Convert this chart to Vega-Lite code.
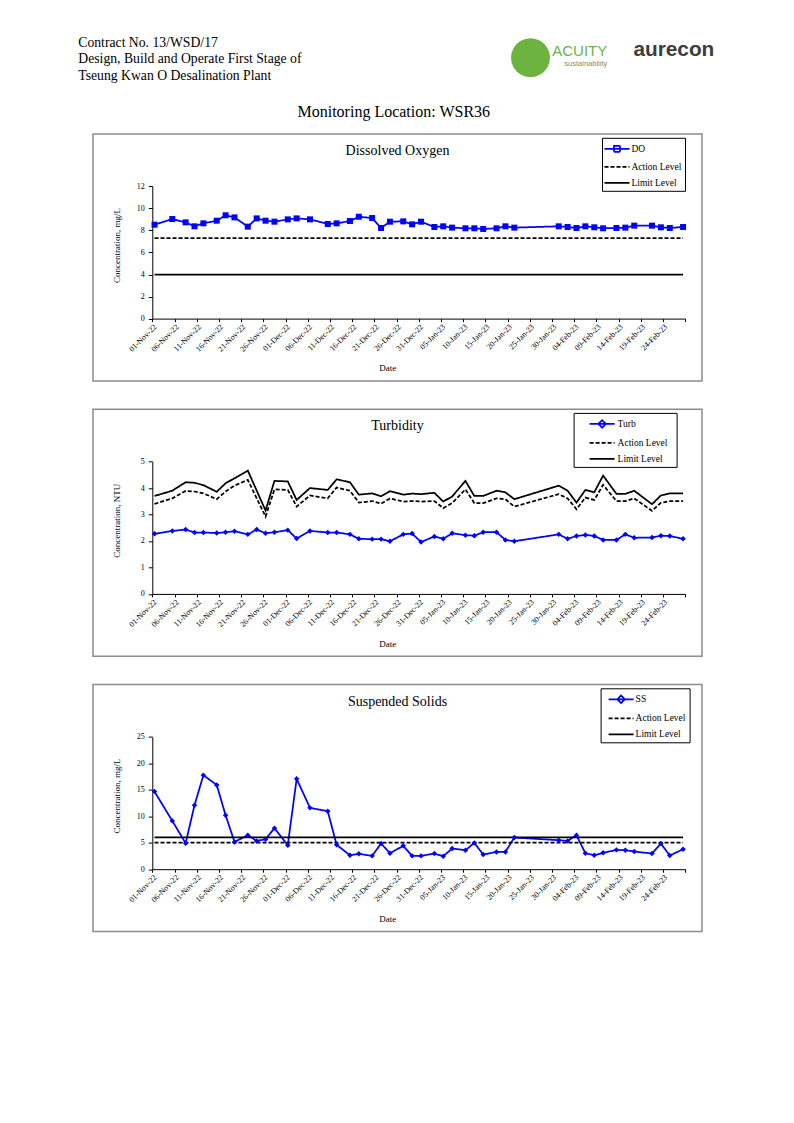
{
  "$schema": "https://vega.github.io/schema/vega-lite/v6.json",
  "background": "white",
  "padding": {"left": 78, "top": 30, "right": 10, "bottom": 10},
  "title": {"text": ["Contract No. 13/WSD/17", "Design, Build and Operate First Stage of", "Tseung Kwan O Desalination Plant"], "anchor": "start", "frame": "bounds", "dx": -13.95, "offset": -52.2, "fontSize": 13.7, "lineHeight": 16.5, "font": "Liberation Serif", "fontWeight": "normal", "color": "black"},
  "vconcat": [
    {
      "title": {"text": "aurecon", "anchor": "end", "frame": "bounds", "dx": 11.55, "offset": -30.3, "font": "Liberation Sans", "fontWeight": "bold", "fontSize": 20.8, "color": "#3d3d3d"},
      "vconcat": [
        {
          "title": {"text": "ACUITY", "subtitle": "sustainability", "anchor": "end", "frame": "bounds", "dx": -95.45, "offset": -37.5, "font": "Liberation Sans", "fontWeight": "normal", "fontSize": 15, "color": "#6db33f", "subtitleFont": "Liberation Sans", "subtitleFontSize": 7.5, "subtitleColor": "#7f8c7a", "subtitlePadding": 1.5},
          "vconcat": [
            {
              "title": {"text": "●", "anchor": "end", "frame": "bounds", "dx": -150, "offset": 21.9, "font": "DejaVu Sans", "fontWeight": "normal", "fontSize": 51, "color": "#6db33f"},
              "vconcat": [
                {
                  "title": {"text": "Monitoring Location: WSR36", "anchor": "middle", "frame": "bounds", "dx": -3.7, "offset": 13, "fontSize": 16, "font": "Liberation Serif", "fontWeight": "normal", "color": "black"},
                  "spacing": 26.3,
                  "resolve": {"scale": {"color": "independent", "strokeDash": "independent", "shape": "independent"}},
                  "vconcat": [
                    {
                      "width": 609, "height": 247,
                      "title": {"text": "Dissolved Oxygen", "fontSize": 14, "anchor": "middle", "frame": "group", "offset": -24},
                      "data": {"values": [
                        {"date": "2022-11-01", "DO": 8.52, "Action Level": 7.3, "Limit Level": 4},
                        {"date": "2022-11-05", "DO": 9.03, "Action Level": 7.3, "Limit Level": 4},
                        {"date": "2022-11-08", "DO": 8.73, "Action Level": 7.3, "Limit Level": 4},
                        {"date": "2022-11-10", "DO": 8.37, "Action Level": 7.3, "Limit Level": 4},
                        {"date": "2022-11-12", "DO": 8.64, "Action Level": 7.3, "Limit Level": 4},
                        {"date": "2022-11-15", "DO": 8.88, "Action Level": 7.3, "Limit Level": 4},
                        {"date": "2022-11-17", "DO": 9.37, "Action Level": 7.3, "Limit Level": 4},
                        {"date": "2022-11-19", "DO": 9.18, "Action Level": 7.3, "Limit Level": 4},
                        {"date": "2022-11-22", "DO": 8.34, "Action Level": 7.3, "Limit Level": 4},
                        {"date": "2022-11-24", "DO": 9.09, "Action Level": 7.3, "Limit Level": 4},
                        {"date": "2022-11-26", "DO": 8.88, "Action Level": 7.3, "Limit Level": 4},
                        {"date": "2022-11-28", "DO": 8.79, "Action Level": 7.3, "Limit Level": 4},
                        {"date": "2022-12-01", "DO": 9.0, "Action Level": 7.3, "Limit Level": 4},
                        {"date": "2022-12-03", "DO": 9.09, "Action Level": 7.3, "Limit Level": 4},
                        {"date": "2022-12-06", "DO": 9.0, "Action Level": 7.3, "Limit Level": 4},
                        {"date": "2022-12-10", "DO": 8.58, "Action Level": 7.3, "Limit Level": 4},
                        {"date": "2022-12-12", "DO": 8.64, "Action Level": 7.3, "Limit Level": 4},
                        {"date": "2022-12-15", "DO": 8.85, "Action Level": 7.3, "Limit Level": 4},
                        {"date": "2022-12-17", "DO": 9.24, "Action Level": 7.3, "Limit Level": 4},
                        {"date": "2022-12-20", "DO": 9.12, "Action Level": 7.3, "Limit Level": 4},
                        {"date": "2022-12-22", "DO": 8.22, "Action Level": 7.3, "Limit Level": 4},
                        {"date": "2022-12-24", "DO": 8.79, "Action Level": 7.3, "Limit Level": 4},
                        {"date": "2022-12-27", "DO": 8.82, "Action Level": 7.3, "Limit Level": 4},
                        {"date": "2022-12-29", "DO": 8.55, "Action Level": 7.3, "Limit Level": 4},
                        {"date": "2022-12-31", "DO": 8.79, "Action Level": 7.3, "Limit Level": 4},
                        {"date": "2023-01-03", "DO": 8.31, "Action Level": 7.3, "Limit Level": 4},
                        {"date": "2023-01-05", "DO": 8.37, "Action Level": 7.3, "Limit Level": 4},
                        {"date": "2023-01-07", "DO": 8.25, "Action Level": 7.3, "Limit Level": 4},
                        {"date": "2023-01-10", "DO": 8.19, "Action Level": 7.3, "Limit Level": 4},
                        {"date": "2023-01-12", "DO": 8.19, "Action Level": 7.3, "Limit Level": 4},
                        {"date": "2023-01-14", "DO": 8.13, "Action Level": 7.3, "Limit Level": 4},
                        {"date": "2023-01-17", "DO": 8.19, "Action Level": 7.3, "Limit Level": 4},
                        {"date": "2023-01-19", "DO": 8.37, "Action Level": 7.3, "Limit Level": 4},
                        {"date": "2023-01-21", "DO": 8.25, "Action Level": 7.3, "Limit Level": 4},
                        {"date": "2023-01-31", "DO": 8.37, "Action Level": 7.3, "Limit Level": 4},
                        {"date": "2023-02-02", "DO": 8.31, "Action Level": 7.3, "Limit Level": 4},
                        {"date": "2023-02-04", "DO": 8.22, "Action Level": 7.3, "Limit Level": 4},
                        {"date": "2023-02-06", "DO": 8.37, "Action Level": 7.3, "Limit Level": 4},
                        {"date": "2023-02-08", "DO": 8.28, "Action Level": 7.3, "Limit Level": 4},
                        {"date": "2023-02-10", "DO": 8.19, "Action Level": 7.3, "Limit Level": 4},
                        {"date": "2023-02-13", "DO": 8.22, "Action Level": 7.3, "Limit Level": 4},
                        {"date": "2023-02-15", "DO": 8.25, "Action Level": 7.3, "Limit Level": 4},
                        {"date": "2023-02-17", "DO": 8.43, "Action Level": 7.3, "Limit Level": 4},
                        {"date": "2023-02-21", "DO": 8.43, "Action Level": 7.3, "Limit Level": 4},
                        {"date": "2023-02-23", "DO": 8.28, "Action Level": 7.3, "Limit Level": 4},
                        {"date": "2023-02-25", "DO": 8.22, "Action Level": 7.3, "Limit Level": 4},
                        {"date": "2023-02-28", "DO": 8.31, "Action Level": 7.3, "Limit Level": 4}
                      ]},
                      "transform": [
                        {"fold": ["DO", "Action Level", "Limit Level"], "as": ["series", "value"]},
                        {"filter": "isValid(datum.value)"}
                      ],
                      "encoding": {
                        "x": {"field": "date", "type": "temporal", "timeUnit": "utcyearmonthdate", "bandPosition": 0.5,
                          "scale": {"type": "utc", "domain": [1667260800000, 1677628800000], "range": [59.3, 592.3], "nice": false},
                          "axis": {"values": [1667260800000, 1667692800000, 1668124800000, 1668556800000, 1668988800000, 1669420800000, 1669852800000, 1670284800000, 1670716800000, 1671148800000, 1671580800000, 1672012800000, 1672444800000, 1672876800000, 1673308800000, 1673740800000, 1674172800000, 1674604800000, 1675036800000, 1675468800000, 1675900800000, 1676332800000, 1676764800000, 1677196800000, 1677628800000],
                            "labelExpr": "datum.value >= 1677628800000 ? '' : utcFormat(datum.value, '%d-%b-%y')",
                            "labelAngle": -45, "offset": -62.4, "tickSize": 3, "labelPadding": 1, "labelOverlap": false, "labelBound": false, "labelFlush": false,
                            "title": "Date", "titleX": 294.3, "titleY": 49.3, "titleBaseline": "middle"}},
                        "y": {"field": "value", "type": "quantitative",
                          "scale": {"domain": [0, 12], "range": [184.6, 52.3], "nice": false},
                          "axis": {"values": [0, 2, 4, 6, 8, 10, 12], "offset": -59.3, "tickSize": 4, "labelPadding": 4, "labelFlush": false,
                            "title": "Concentration, mg/L", "titleX": -36.3, "titleY": 111, "titleBaseline": "middle"}}
                      },
                      "layer": [
                        {"mark": {"type": "line", "strokeWidth": 1.75},
                          "encoding": {
                            "color": {"field": "series", "type": "nominal", "scale": {"domain": ["DO", "Action Level", "Limit Level"], "range": ["#0000ff", "black", "black"]},
                              "legend": {"orient": "none", "legendX": 509, "legendY": 3.8, "title": null, "padding": 3.5, "rowPadding": 4, "labelOffset": 7, "symbolOffset": 4, "symbolSize": 156.25, "symbolStrokeWidth": 1.75, "symbolOpacity": 1, "symbolFillColor": "#0000ff", "strokeColor": "black", "fillColor": "white"}},
                            "strokeDash": {"field": "series", "type": "nominal", "scale": {"domain": ["DO", "Action Level", "Limit Level"], "range": [[1, 0], [4, 2], [1, 0]]},
                              "legend": {"orient": "none", "legendX": 509, "legendY": 3.8, "title": null, "padding": 3.5, "rowPadding": 4, "labelOffset": 7, "symbolOffset": 4, "symbolSize": 156.25, "symbolStrokeWidth": 1.75, "symbolOpacity": 1, "symbolFillColor": "#0000ff", "strokeColor": "black", "fillColor": "white"}}
                          }},
                        {"mark": {"type": "point", "opacity": 0, "size": 1},
                          "encoding": {
                            "shape": {"field": "series", "type": "nominal", "scale": {"domain": ["DO", "Action Level", "Limit Level"], "range": ["M-2,0H2M-0.48,-0.48H0.48V0.48H-0.48Z", "M-2,0H2", "M-2,0H2"]},
                              "legend": {"orient": "none", "legendX": 509, "legendY": 3.8, "title": null, "padding": 3.5, "rowPadding": 4, "labelOffset": 7, "symbolOffset": 4, "symbolSize": 156.25, "symbolStrokeWidth": 1.75, "symbolOpacity": 1, "symbolFillColor": "#0000ff", "strokeColor": "black", "fillColor": "white"}}
                          }},
                        {"transform": [{"filter": "datum.series === 'DO'"}],
                          "mark": {"type": "point", "shape": "square", "filled": true, "size": 36, "color": "#0000ff", "opacity": 1}}
                      ]
                    },
                    {
                      "width": 609, "height": 247,
                      "title": {"text": "Turbidity", "fontSize": 14, "anchor": "middle", "frame": "group", "offset": -24},
                      "data": {"values": [
                        {"date": "2022-11-01", "Turb": 2.27, "Action Level": 3.40, "Limit Level": 3.70},
                        {"date": "2022-11-05", "Turb": 2.38, "Action Level": 3.61, "Limit Level": 3.90},
                        {"date": "2022-11-08", "Turb": 2.43, "Action Level": 3.89, "Limit Level": 4.22},
                        {"date": "2022-11-10", "Turb": 2.32, "Action Level": 3.87, "Limit Level": 4.20},
                        {"date": "2022-11-12", "Turb": 2.32, "Action Level": 3.80, "Limit Level": 4.11},
                        {"date": "2022-11-15", "Turb": 2.30, "Action Level": 3.58, "Limit Level": 3.86},
                        {"date": "2022-11-17", "Turb": 2.33, "Action Level": 3.87, "Limit Level": 4.18},
                        {"date": "2022-11-19", "Turb": 2.37, "Action Level": 4.09, "Limit Level": 4.37},
                        {"date": "2022-11-22", "Turb": 2.25, "Action Level": 4.31, "Limit Level": 4.66},
                        {"date": "2022-11-24", "Turb": 2.43},
                        {"date": "2022-11-26", "Turb": 2.29, "Action Level": 2.92, "Limit Level": 3.15},
                        {"date": "2022-11-28", "Turb": 2.33, "Action Level": 3.95, "Limit Level": 4.27},
                        {"date": "2022-12-01", "Turb": 2.41, "Action Level": 3.93, "Limit Level": 4.25},
                        {"date": "2022-12-03", "Turb": 2.09, "Action Level": 3.30, "Limit Level": 3.55},
                        {"date": "2022-12-06", "Turb": 2.38, "Action Level": 3.72, "Limit Level": 4.00},
                        {"date": "2022-12-10", "Turb": 2.32, "Action Level": 3.61, "Limit Level": 3.93},
                        {"date": "2022-12-12", "Turb": 2.32, "Action Level": 4.02, "Limit Level": 4.33},
                        {"date": "2022-12-15", "Turb": 2.25, "Action Level": 3.90, "Limit Level": 4.22},
                        {"date": "2022-12-17", "Turb": 2.08, "Action Level": 3.45, "Limit Level": 3.75},
                        {"date": "2022-12-20", "Turb": 2.07, "Action Level": 3.51, "Limit Level": 3.80},
                        {"date": "2022-12-22", "Turb": 2.07, "Action Level": 3.41, "Limit Level": 3.69},
                        {"date": "2022-12-24", "Turb": 1.99, "Action Level": 3.61, "Limit Level": 3.88},
                        {"date": "2022-12-27", "Turb": 2.25, "Action Level": 3.49, "Limit Level": 3.75},
                        {"date": "2022-12-29", "Turb": 2.28, "Action Level": 3.51, "Limit Level": 3.79},
                        {"date": "2022-12-31", "Turb": 1.96, "Action Level": 3.49, "Limit Level": 3.77},
                        {"date": "2023-01-03", "Turb": 2.17, "Action Level": 3.51, "Limit Level": 3.82},
                        {"date": "2023-01-05", "Turb": 2.08, "Action Level": 3.24, "Limit Level": 3.49},
                        {"date": "2023-01-07", "Turb": 2.29, "Action Level": 3.43, "Limit Level": 3.68},
                        {"date": "2023-01-10", "Turb": 2.22, "Action Level": 3.95, "Limit Level": 4.27},
                        {"date": "2023-01-12", "Turb": 2.20, "Action Level": 3.43, "Limit Level": 3.70},
                        {"date": "2023-01-14", "Turb": 2.33, "Action Level": 3.43, "Limit Level": 3.70},
                        {"date": "2023-01-17", "Turb": 2.33, "Action Level": 3.61, "Limit Level": 3.90},
                        {"date": "2023-01-19", "Turb": 2.04, "Action Level": 3.58, "Limit Level": 3.84},
                        {"date": "2023-01-21", "Turb": 1.99, "Action Level": 3.30, "Limit Level": 3.58},
                        {"date": "2023-01-31", "Turb": 2.25, "Action Level": 3.77, "Limit Level": 4.09},
                        {"date": "2023-02-02", "Turb": 2.08, "Action Level": 3.61, "Limit Level": 3.90},
                        {"date": "2023-02-04", "Turb": 2.19, "Action Level": 3.20, "Limit Level": 3.45},
                        {"date": "2023-02-06", "Turb": 2.23, "Action Level": 3.64, "Limit Level": 3.93},
                        {"date": "2023-02-08", "Turb": 2.19, "Action Level": 3.55, "Limit Level": 3.84},
                        {"date": "2023-02-10", "Turb": 2.04, "Action Level": 4.12, "Limit Level": 4.47},
                        {"date": "2023-02-13", "Turb": 2.04, "Action Level": 3.51, "Limit Level": 3.78},
                        {"date": "2023-02-15", "Turb": 2.25, "Action Level": 3.51, "Limit Level": 3.78},
                        {"date": "2023-02-17", "Turb": 2.12, "Action Level": 3.61, "Limit Level": 3.90},
                        {"date": "2023-02-21", "Turb": 2.13, "Action Level": 3.14, "Limit Level": 3.39},
                        {"date": "2023-02-23", "Turb": 2.20, "Action Level": 3.44, "Limit Level": 3.72},
                        {"date": "2023-02-25", "Turb": 2.19, "Action Level": 3.51, "Limit Level": 3.80},
                        {"date": "2023-02-28", "Turb": 2.08, "Action Level": 3.51, "Limit Level": 3.80}
                      ]},
                      "transform": [
                        {"fold": ["Turb", "Action Level", "Limit Level"], "as": ["series", "value"]},
                        {"filter": "isValid(datum.value)"}
                      ],
                      "encoding": {
                        "x": {"field": "date", "type": "temporal", "timeUnit": "utcyearmonthdate", "bandPosition": 0.5,
                          "scale": {"type": "utc", "domain": [1667260800000, 1677628800000], "range": [59.3, 592.3], "nice": false},
                          "axis": {"values": [1667260800000, 1667692800000, 1668124800000, 1668556800000, 1668988800000, 1669420800000, 1669852800000, 1670284800000, 1670716800000, 1671148800000, 1671580800000, 1672012800000, 1672444800000, 1672876800000, 1673308800000, 1673740800000, 1674172800000, 1674604800000, 1675036800000, 1675468800000, 1675900800000, 1676332800000, 1676764800000, 1677196800000, 1677628800000],
                            "labelExpr": "datum.value >= 1677628800000 ? '' : utcFormat(datum.value, '%d-%b-%y')",
                            "labelAngle": -45, "offset": -62.4, "tickSize": 3, "labelPadding": 1, "labelOverlap": false, "labelBound": false, "labelFlush": false,
                            "title": "Date", "titleX": 294.3, "titleY": 49.3, "titleBaseline": "middle"}},
                        "y": {"field": "value", "type": "quantitative",
                          "scale": {"domain": [0, 5], "range": [184.6, 52.3], "nice": false},
                          "axis": {"values": [0, 1, 2, 3, 4, 5], "offset": -59.3, "tickSize": 4, "labelPadding": 4, "labelFlush": false,
                            "title": "Concentration, NTU", "titleX": -36.3, "titleY": 111, "titleBaseline": "middle"}}
                      },
                      "layer": [
                        {"mark": {"type": "line", "strokeWidth": 1.75},
                          "encoding": {
                            "color": {"field": "series", "type": "nominal", "scale": {"domain": ["Turb", "Action Level", "Limit Level"], "range": ["#0000ff", "black", "black"]},
                              "legend": {"orient": "none", "legendX": 480.6, "legendY": 3.6, "title": "i", "titleOrient": "right", "titlePadding": 3, "titleFontSize": 9.5, "titleColor": "white", "padding": 3.5, "rowPadding": 4, "labelOffset": 8, "symbolOffset": 17.5, "symbolSize": 156.25, "symbolStrokeWidth": 1.75, "symbolOpacity": 1, "symbolFillColor": "#0000ff", "strokeColor": "black", "fillColor": "white"}},
                            "strokeDash": {"field": "series", "type": "nominal", "scale": {"domain": ["Turb", "Action Level", "Limit Level"], "range": [[1, 0], [4, 2], [1, 0]]},
                              "legend": {"orient": "none", "legendX": 480.6, "legendY": 3.6, "title": "i", "titleOrient": "right", "titlePadding": 3, "titleFontSize": 9.5, "titleColor": "white", "padding": 3.5, "rowPadding": 4, "labelOffset": 8, "symbolOffset": 17.5, "symbolSize": 156.25, "symbolStrokeWidth": 1.75, "symbolOpacity": 1, "symbolFillColor": "#0000ff", "strokeColor": "black", "fillColor": "white"}}
                          }},
                        {"mark": {"type": "point", "opacity": 0, "size": 1},
                          "encoding": {
                            "shape": {"field": "series", "type": "nominal", "scale": {"domain": ["Turb", "Action Level", "Limit Level"], "range": ["M-2,0H2M0,-0.6L0.6,0L0,0.6L-0.6,0Z", "M-2,0H2", "M-2,0H2"]},
                              "legend": {"orient": "none", "legendX": 480.6, "legendY": 3.6, "title": "i", "titleOrient": "right", "titlePadding": 3, "titleFontSize": 9.5, "titleColor": "white", "padding": 3.5, "rowPadding": 4, "labelOffset": 8, "symbolOffset": 17.5, "symbolSize": 156.25, "symbolStrokeWidth": 1.75, "symbolOpacity": 1, "symbolFillColor": "#0000ff", "strokeColor": "black", "fillColor": "white"}}
                          }},
                        {"transform": [{"filter": "datum.series === 'Turb'"}],
                          "mark": {"type": "point", "shape": "diamond", "filled": true, "size": 30, "color": "#0000ff", "opacity": 1}}
                      ]
                    },
                    {
                      "width": 609, "height": 247,
                      "title": {"text": "Suspended Solids", "fontSize": 14, "anchor": "middle", "frame": "group", "offset": -24},
                      "data": {"values": [
                        {"date": "2022-11-01", "SS": 14.67, "Action Level": 5, "Limit Level": 6},
                        {"date": "2022-11-05", "SS": 9.13, "Action Level": 5, "Limit Level": 6},
                        {"date": "2022-11-08", "SS": 4.91, "Action Level": 5, "Limit Level": 6},
                        {"date": "2022-11-10", "SS": 12.09, "Action Level": 5, "Limit Level": 6},
                        {"date": "2022-11-12", "SS": 17.76, "Action Level": 5, "Limit Level": 6},
                        {"date": "2022-11-15", "SS": 15.93, "Action Level": 5, "Limit Level": 6},
                        {"date": "2022-11-17", "SS": 10.2, "Action Level": 5, "Limit Level": 6},
                        {"date": "2022-11-19", "SS": 5.16, "Action Level": 5, "Limit Level": 6},
                        {"date": "2022-11-22", "SS": 6.42, "Action Level": 5, "Limit Level": 6},
                        {"date": "2022-11-24", "SS": 5.35, "Action Level": 5, "Limit Level": 6},
                        {"date": "2022-11-26", "SS": 5.67, "Action Level": 5, "Limit Level": 6},
                        {"date": "2022-11-28", "SS": 7.75, "Action Level": 5, "Limit Level": 6},
                        {"date": "2022-12-01", "SS": 4.53, "Action Level": 5, "Limit Level": 6},
                        {"date": "2022-12-03", "SS": 17.07, "Action Level": 5, "Limit Level": 6},
                        {"date": "2022-12-06", "SS": 11.59, "Action Level": 5, "Limit Level": 6},
                        {"date": "2022-12-10", "SS": 10.96, "Action Level": 5, "Limit Level": 6},
                        {"date": "2022-12-12", "SS": 4.6, "Action Level": 5, "Limit Level": 6},
                        {"date": "2022-12-15", "SS": 2.64, "Action Level": 5, "Limit Level": 6},
                        {"date": "2022-12-17", "SS": 2.9, "Action Level": 5, "Limit Level": 6},
                        {"date": "2022-12-20", "SS": 2.52, "Action Level": 5, "Limit Level": 6},
                        {"date": "2022-12-22", "SS": 4.85, "Action Level": 5, "Limit Level": 6},
                        {"date": "2022-12-24", "SS": 3.02, "Action Level": 5, "Limit Level": 6},
                        {"date": "2022-12-27", "SS": 4.41, "Action Level": 5, "Limit Level": 6},
                        {"date": "2022-12-29", "SS": 2.52, "Action Level": 5, "Limit Level": 6},
                        {"date": "2022-12-31", "SS": 2.52, "Action Level": 5, "Limit Level": 6},
                        {"date": "2023-01-03", "SS": 2.96, "Action Level": 5, "Limit Level": 6},
                        {"date": "2023-01-05", "SS": 2.46, "Action Level": 5, "Limit Level": 6},
                        {"date": "2023-01-07", "SS": 3.9, "Action Level": 5, "Limit Level": 6},
                        {"date": "2023-01-10", "SS": 3.59, "Action Level": 5, "Limit Level": 6},
                        {"date": "2023-01-12", "SS": 4.97, "Action Level": 5, "Limit Level": 6},
                        {"date": "2023-01-14", "SS": 2.77, "Action Level": 5, "Limit Level": 6},
                        {"date": "2023-01-17", "SS": 3.27, "Action Level": 5, "Limit Level": 6},
                        {"date": "2023-01-19", "SS": 3.27, "Action Level": 5, "Limit Level": 6},
                        {"date": "2023-01-21", "SS": 5.98, "Action Level": 5, "Limit Level": 6},
                        {"date": "2023-01-31", "SS": 5.48, "Action Level": 5, "Limit Level": 6},
                        {"date": "2023-02-02", "SS": 5.35, "Action Level": 5, "Limit Level": 6},
                        {"date": "2023-02-04", "SS": 6.42, "Action Level": 5, "Limit Level": 6},
                        {"date": "2023-02-06", "SS": 3.02, "Action Level": 5, "Limit Level": 6},
                        {"date": "2023-02-08", "SS": 2.64, "Action Level": 5, "Limit Level": 6},
                        {"date": "2023-02-10", "SS": 3.09, "Action Level": 5, "Limit Level": 6},
                        {"date": "2023-02-13", "SS": 3.65, "Action Level": 5, "Limit Level": 6},
                        {"date": "2023-02-15", "SS": 3.59, "Action Level": 5, "Limit Level": 6},
                        {"date": "2023-02-17", "SS": 3.34, "Action Level": 5, "Limit Level": 6},
                        {"date": "2023-02-21", "SS": 2.96, "Action Level": 5, "Limit Level": 6},
                        {"date": "2023-02-23", "SS": 4.85, "Action Level": 5, "Limit Level": 6},
                        {"date": "2023-02-25", "SS": 2.58, "Action Level": 5, "Limit Level": 6},
                        {"date": "2023-02-28", "SS": 3.78, "Action Level": 5, "Limit Level": 6}
                      ]},
                      "transform": [
                        {"fold": ["SS", "Action Level", "Limit Level"], "as": ["series", "value"]},
                        {"filter": "isValid(datum.value)"}
                      ],
                      "encoding": {
                        "x": {"field": "date", "type": "temporal", "timeUnit": "utcyearmonthdate", "bandPosition": 0.5,
                          "scale": {"type": "utc", "domain": [1667260800000, 1677628800000], "range": [59.3, 592.3], "nice": false},
                          "axis": {"values": [1667260800000, 1667692800000, 1668124800000, 1668556800000, 1668988800000, 1669420800000, 1669852800000, 1670284800000, 1670716800000, 1671148800000, 1671580800000, 1672012800000, 1672444800000, 1672876800000, 1673308800000, 1673740800000, 1674172800000, 1674604800000, 1675036800000, 1675468800000, 1675900800000, 1676332800000, 1676764800000, 1677196800000, 1677628800000],
                            "labelExpr": "datum.value >= 1677628800000 ? '' : utcFormat(datum.value, '%d-%b-%y')",
                            "labelAngle": -45, "offset": -62.4, "tickSize": 3, "labelPadding": 1, "labelOverlap": false, "labelBound": false, "labelFlush": false,
                            "title": "Date", "titleX": 294.3, "titleY": 49.3, "titleBaseline": "middle"}},
                        "y": {"field": "value", "type": "quantitative",
                          "scale": {"domain": [0, 25], "range": [184.6, 52.3], "nice": false},
                          "axis": {"values": [0, 5, 10, 15, 20, 25], "offset": -59.3, "tickSize": 4, "labelPadding": 4, "labelFlush": false,
                            "title": "Concentration, mg/L", "titleX": -36.3, "titleY": 111, "titleBaseline": "middle"}}
                      },
                      "layer": [
                        {"mark": {"type": "line", "strokeWidth": 1.75},
                          "encoding": {
                            "color": {"field": "series", "type": "nominal", "scale": {"domain": ["SS", "Action Level", "Limit Level"], "range": ["#0000ff", "black", "black"]},
                              "legend": {"orient": "none", "legendX": 507.6, "legendY": 3.7, "title": null, "padding": 3.5, "rowPadding": 4, "labelOffset": 7, "symbolOffset": 9.5, "symbolSize": 156.25, "symbolStrokeWidth": 1.75, "symbolOpacity": 1, "symbolFillColor": "#0000ff", "strokeColor": "black", "fillColor": "white"}},
                            "strokeDash": {"field": "series", "type": "nominal", "scale": {"domain": ["SS", "Action Level", "Limit Level"], "range": [[1, 0], [4, 2], [1, 0]]},
                              "legend": {"orient": "none", "legendX": 507.6, "legendY": 3.7, "title": null, "padding": 3.5, "rowPadding": 4, "labelOffset": 7, "symbolOffset": 9.5, "symbolSize": 156.25, "symbolStrokeWidth": 1.75, "symbolOpacity": 1, "symbolFillColor": "#0000ff", "strokeColor": "black", "fillColor": "white"}}
                          }},
                        {"mark": {"type": "point", "opacity": 0, "size": 1},
                          "encoding": {
                            "shape": {"field": "series", "type": "nominal", "scale": {"domain": ["SS", "Action Level", "Limit Level"], "range": ["M-2,0H2M0,-0.6L0.6,0L0,0.6L-0.6,0Z", "M-2,0H2", "M-2,0H2"]},
                              "legend": {"orient": "none", "legendX": 507.6, "legendY": 3.7, "title": null, "padding": 3.5, "rowPadding": 4, "labelOffset": 7, "symbolOffset": 9.5, "symbolSize": 156.25, "symbolStrokeWidth": 1.75, "symbolOpacity": 1, "symbolFillColor": "#0000ff", "strokeColor": "black", "fillColor": "white"}}
                          }},
                        {"transform": [{"filter": "datum.series === 'SS'"}],
                          "mark": {"type": "point", "shape": "diamond", "filled": true, "size": 30, "color": "#0000ff", "opacity": 1}}
                      ]
                    }
                  ]
                }
              ]
            }
          ]
        }
      ]
    }
  ],
  "config": {
    "view": {"stroke": "#8c8c8c", "strokeWidth": 1.5},
    "font": "Liberation Serif",
    "axis": {"labelFont": "Liberation Serif", "titleFont": "Liberation Serif", "labelFontSize": 8, "titleFontSize": 9, "titleFontWeight": "normal", "labelColor": "black", "titleColor": "black", "domainColor": "black", "tickColor": "black", "grid": false, "domainWidth": 1, "tickWidth": 1},
    "legend": {"labelFont": "Liberation Serif", "titleFont": "Liberation Serif", "labelFontSize": 9.5, "labelColor": "black", "titleFontWeight": "normal"},
    "title": {"font": "Liberation Serif", "fontWeight": "normal", "color": "black"}
  }
}
